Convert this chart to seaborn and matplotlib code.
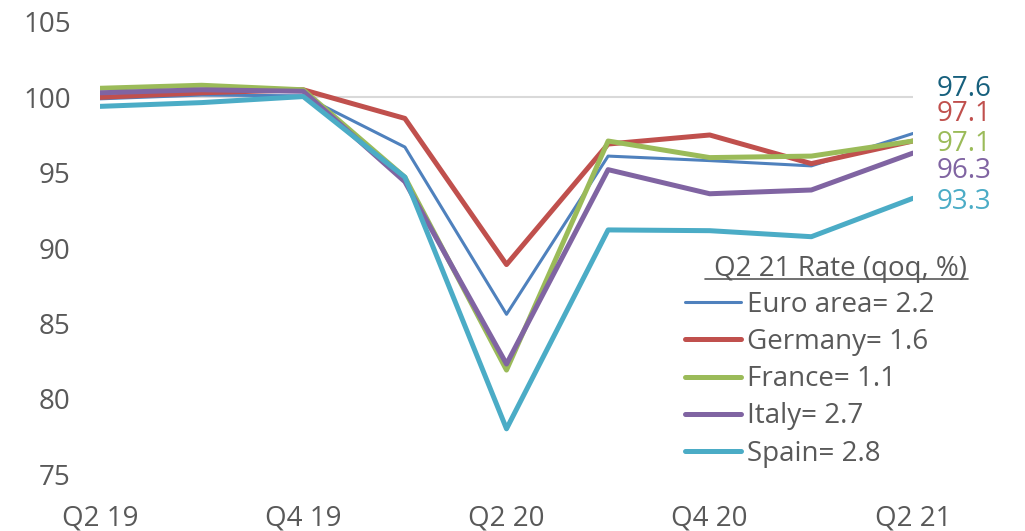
import matplotlib
matplotlib.use("Agg")
import matplotlib.pyplot as plt
from matplotlib.lines import Line2D
import pandas as pd
import seaborn as sns

# Real GDP index by quarter
quarters = ["Q2 19", "Q3 19", "Q4 19", "Q1 20", "Q2 20", "Q3 20", "Q4 20", "Q1 21", "Q2 21"]
euro_area = [99.9, 100.15, 100.1, 96.7, 85.6, 96.1, 95.8, 95.45, 97.6]
germany = [100.0, 100.3, 100.5, 98.6, 88.9, 96.9, 97.5, 95.6, 97.1]
france = [100.6, 100.8, 100.5, 94.7, 81.9, 97.1, 96.0, 96.1, 97.1]
italy = [100.3, 100.5, 100.4, 94.4, 82.3, 95.2, 93.6, 93.85, 96.3]
spain = [99.4, 99.65, 100.05, 94.7, 78.0, 91.2, 91.15, 90.75, 93.3]

series_names = ["Euro area", "Germany", "France", "Italy", "Spain"]
series_values = [euro_area, germany, france, italy, spain]
qoq_rates = ["2.2", "1.6", "1.1", "2.7", "2.8"]
end_labels = ["97.6", "97.1", "97.1", "96.3", "93.3"]

tick_quarters = ["Q2 19", "Q4 19", "Q2 20", "Q4 20", "Q2 21"]
y_ticks = [75, 80, 85, 90, 95, 100, 105]

colors = ["#4F81BD", "#C0504D", "#9BBB59", "#8064A2", "#4BACC6"]
label_colors = ["#17607D", "#C0504D", "#9BBB59", "#8064A2", "#4BACC6"]
widths = [2.2, 3.6, 3.6, 3.6, 3.6]
grey = "#595959"
fs = 20

rows = []
for name, vals in zip(series_names, series_values):
    for i, (q, v) in enumerate(zip(quarters, vals)):
        rows.append({"series": name, "pos": i, "quarter": q, "value": v})
df = pd.DataFrame(rows)

sns.set_theme(style="white")
plt.rcParams["font.family"] = ["Open Sans", "DejaVu Sans"]

fig = plt.figure(figsize=(10.25, 5.31), dpi=100)
ax = fig.add_axes([0.0976, 0.1073, 0.7931, 0.8513])

ax.axhline(100, color="#D9D9D9", lw=1.5, zorder=0)

handles = []
for name, col, lw in zip(series_names, colors, widths):
    sub = df[df["series"] == name]
    sns.lineplot(data=sub, x="pos", y="value", ax=ax, color=col, lw=lw,
                 solid_joinstyle="round", solid_capstyle="round", legend=False)
    handles.append(Line2D([], [], color=col, lw=lw, solid_capstyle="round"))

ax.set_xlim(0, len(quarters) - 1)
ax.set_ylim(75, 105)
ax.set_xticks([quarters.index(q) for q in tick_quarters])
ax.set_xticklabels(tick_quarters)
ax.set_yticks(y_ticks)
ax.set_yticklabels([str(v) for v in y_ticks])
ax.set_xlabel("")
ax.set_ylabel("")
ax.tick_params(axis="both", length=0, labelsize=fs, labelcolor=grey)
ax.tick_params(axis="y", pad=21)
ax.tick_params(axis="x", pad=22)
for s in ax.spines.values():
    s.set_visible(False)

# Latest values stacked to the right of the lines
label_y = [100.54, 98.88, 96.89, 95.08, 93.02]
for txt, col, yy in zip(end_labels, label_colors, label_y):
    ax.text(1.0625, yy, txt, transform=ax.get_yaxis_transform(), color=col,
            fontsize=fs, ha="center", va="center")

leg = ax.legend(handles, [f"{n}= {r}" for n, r in zip(series_names, qoq_rates)],
                loc="upper left", bbox_to_anchor=(0.7196, 0.405), frameon=False,
                fontsize=fs, handlelength=2.0, handletextpad=0.22,
                labelspacing=0.33, borderaxespad=0, borderpad=0)
for t in leg.get_texts():
    t.set_color(grey)

title = ax.text(0.755, 0.454, "Q2 21 Rate (qoq, %)", transform=ax.transAxes,
                fontsize=fs, color=grey, ha="left", va="center")

fig.canvas.draw()
bb = title.get_window_extent()
fig.add_artist(Line2D([bb.x0 - 9, bb.x1 + 1], [bb.y0 + 4, bb.y0 + 4],
                      transform=None, color=grey, lw=1.2))

fig.savefig("out.png", dpi=100, facecolor="white")
